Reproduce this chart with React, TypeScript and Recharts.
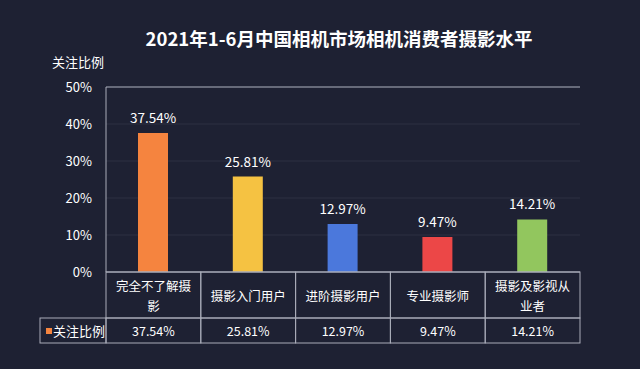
import { BarChart, Bar, XAxis, YAxis, CartesianGrid, ReferenceLine, LabelList, Cell } from "recharts";

const TITLE = "2021年1-6月中国相机市场相机消费者摄影水平";
const SERIES_NAME = "关注比例";
const CATEGORIES = ["完全不了解摄影", "摄影入门用户", "进阶摄影用户", "专业摄影师", "摄影及影视从业者"];
const VALUES = [37.54, 25.81, 12.97, 9.47, 14.21];
const COLORS = ["#f5843f", "#f5c242", "#4b78dc", "#ec4747", "#92c65e"];
const Y_TICKS = [0, 10, 20, 30, 40, 50];

const data = CATEGORIES.map((name, i) => ({ name, value: VALUES[i] }));

const W = 640;
const H = 369;
const LEFT = 106;
const RIGHT = 60;
const BAND = (W - LEFT - RIGHT) / CATEGORIES.length;
const FONT = "'Noto Sans CJK SC', 'Noto Sans', sans-serif";
const BG = "#1e2133";
const LINE = "#a9acb9";
const ROW1 = 46;
const ROW2 = 25;
const LEGEND_W = 66;

function wrap(s: string, n: number) {
  const out: string[] = [];
  for (let i = 0; i < s.length; i += n) out.push(s.slice(i, i + n));
  return out;
}

// data-table style x axis: category cell + value cell under each band
const TableTick = (props: any) => {
  const { x, y, payload } = props;
  const i = payload.index;
  const x0 = x - BAND / 2;
  const lines = wrap(payload.value, 6);
  const textStyle = { fill: "#ffffff", fontSize: 12.5, fontFamily: FONT };
  return (
    <g>
      <rect x={x0} y={y} width={BAND} height={ROW1} fill="none" stroke={LINE} strokeWidth={1} />
      <rect x={x0} y={y + ROW1} width={BAND} height={ROW2} fill="none" stroke={LINE} strokeWidth={1} />
      {lines.map((l, k) => (
        <text
          key={k}
          x={x}
          y={y + ROW1 / 2 + (k - (lines.length - 1) / 2) * 20}
          textAnchor="middle"
          dominantBaseline="central"
          {...textStyle}
        >
          {l}
        </text>
      ))}
      <text x={x} y={y + ROW1 + ROW2 / 2} textAnchor="middle" dominantBaseline="central" {...textStyle}>
        {VALUES[i].toFixed(2)}%
      </text>
      {i === 0 && (
        <g>
          <rect x={x0 - LEGEND_W} y={y + ROW1} width={LEGEND_W} height={ROW2} fill="none" stroke={LINE} strokeWidth={1} />
          <rect x={x0 - LEGEND_W + 6} y={y + ROW1 + 10} width={6} height={6} fill={COLORS[0]} />
          <text x={x0 - LEGEND_W + 13} y={y + ROW1 + ROW2 / 2} dominantBaseline="central" {...textStyle} fontSize={13}>
            {SERIES_NAME}
          </text>
        </g>
      )}
    </g>
  );
};

export default function App() {
  return (
    <div style={{ position: "relative", width: W, height: H, background: BG, fontFamily: FONT }}>
      <style>{`body{margin:0;background:${BG}}`}</style>
      <div style={{
        position: "absolute", top: 26, left: 0, width: 678, textAlign: "center",
        color: "#ffffff", fontSize: 18.5, fontWeight: 700, lineHeight: "24px",
      }}>
        {TITLE}
      </div>
      <div style={{
        position: "absolute", top: 52, left: 52, color: "#ffffff", fontSize: 13, lineHeight: "20px",
      }}>
        {SERIES_NAME}
      </div>
      <BarChart
        width={W}
        height={H}
        data={data}
        margin={{ top: 87, right: RIGHT, bottom: 17, left: 0 }}
        barCategoryGap={0}
      >
        <CartesianGrid vertical={false} stroke="rgba(255,255,255,0.07)" />
        <XAxis
          dataKey="name"
          height={80}
          tickSize={0}
          tickMargin={0}
          interval={0}
          axisLine={{ stroke: LINE }}
          tick={<TableTick />}
        />
        <YAxis
          width={LEFT}
          domain={[0, 50]}
          ticks={Y_TICKS}
          tickFormatter={(v: number) => `${v}%`}
          tickSize={0}
          tickMargin={14}
          axisLine={{ stroke: LINE }}
          tick={{ fill: "#ffffff", fontSize: 13, fontFamily: FONT }}
        />
        <YAxis
          yAxisId="r"
          orientation="right"
          width={0}
          domain={[0, 50]}
          tick={false}
          tickLine={false}
          axisLine={{ stroke: LINE }}
        />
        <ReferenceLine y={50} stroke={LINE} />
        <Bar dataKey="value" barSize={30} isAnimationActive={false}>
          {data.map((d, i) => (
            <Cell key={d.name} fill={COLORS[i]} />
          ))}
          <LabelList
            dataKey="value"
            position="top"
            offset={10}
            formatter={(v: number) => `${v.toFixed(2)}%`}
            style={{ fill: "#ffffff", fontSize: 13.5, fontFamily: FONT }}
          />
        </Bar>
      </BarChart>
    </div>
  );
}
